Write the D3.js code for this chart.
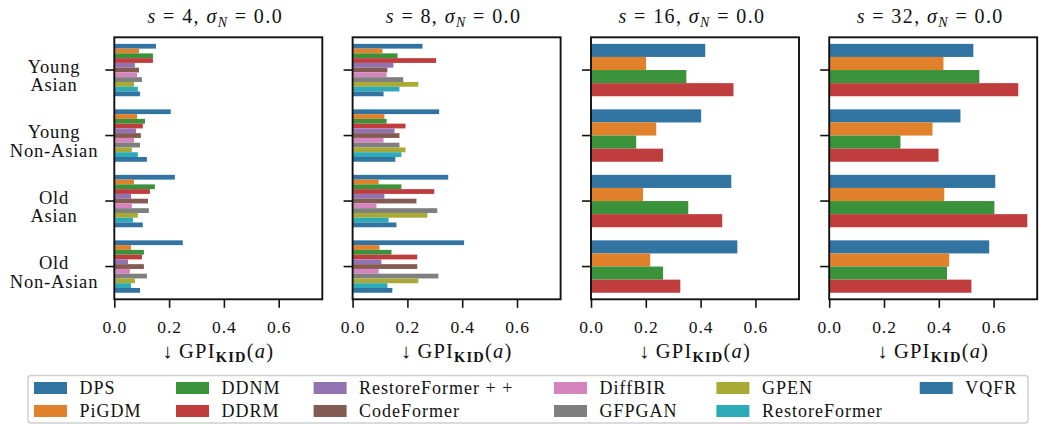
<!DOCTYPE html>
<html><head><meta charset="utf-8">
<script src="https://cdn.jsdelivr.net/npm/d3@7"></script>
<style>
html,body{margin:0;padding:0;background:#fff;}
svg{display:block;}
text{font-family:'Liberation Serif','DejaVu Serif',serif;fill:#111;}
</style></head>
<body><svg id="chart" width="1042" height="424"></svg>
<script>
// ---------- data ----------
const groupLabels = [["Young","Asian"],["Young","Non-Asian"],["Old","Asian"],["Old","Non-Asian"]];
const methods = ["DPS","PiGDM","DDNM","DDRM","RestoreFormer++","CodeFormer","DiffBIR","GFPGAN","GPEN","RestoreFormer","VQFR"];
const methodLegend = ["DPS","PiGDM","DDNM","DDRM","RestoreFormer + +","CodeFormer","DiffBIR","GFPGAN","GPEN","RestoreFormer","VQFR"];
const colors = ["#3274a1","#e1812c","#3a923a","#c03d3e","#9372b2","#845b53","#d684bd","#7f7f7f","#a9aa35","#2eabb8","#3274a1"];
const scales = [4, 8, 16, 32];
const sigmaN = "0.0";
const xTicks = [0, 0.2, 0.4, 0.6];
// rows = methods (in order), columns = groups
const s4Values = [
  [0.152, 0.206, 0.221, 0.250],
  [0.090, 0.083, 0.072, 0.061],
  [0.141, 0.112, 0.148, 0.108],
  [0.141, 0.104, 0.130, 0.101],
  [0.075, 0.079, 0.061, 0.050],
  [0.090, 0.097, 0.123, 0.108],
  [0.083, 0.072, 0.064, 0.057],
  [0.101, 0.094, 0.126, 0.119],
  [0.072, 0.064, 0.086, 0.075],
  [0.086, 0.086, 0.068, 0.061],
  [0.094, 0.119, 0.104, 0.094]
];
const s8Values = [
  [0.255, 0.316, 0.349, 0.407],
  [0.109, 0.116, 0.095, 0.098],
  [0.164, 0.124, 0.178, 0.142],
  [0.305, 0.193, 0.298, 0.236],
  [0.149, 0.153, 0.116, 0.105],
  [0.127, 0.171, 0.233, 0.236],
  [0.124, 0.113, 0.087, 0.095],
  [0.185, 0.171, 0.309, 0.313],
  [0.240, 0.193, 0.273, 0.240],
  [0.171, 0.178, 0.131, 0.127],
  [0.113, 0.156, 0.160, 0.145]
];
const s16Values = [
  [0.417, 0.402, 0.512, 0.534],
  [0.201, 0.238, 0.190, 0.216],
  [0.348, 0.165, 0.355, 0.263],
  [0.520, 0.263, 0.479, 0.326]
];
const s32Values = [
  [0.526, 0.479, 0.606, 0.584],
  [0.417, 0.377, 0.420, 0.438],
  [0.548, 0.260, 0.603, 0.430],
  [0.690, 0.399, 0.723, 0.519]
];
const panelValues = [s4Values, s8Values, s16Values, s32Values];

// ---------- layout ----------
const svg = d3.select("#chart");
const panelLeft = [114.3, 352.6, 591, 829.2];
const panelW = 208, plotTop = 37.3, plotBottom = 299.3;
const allMax = d3.max(panelValues.flat(2));
const x = d3.scaleLinear().domain([0, allMax * 1.05]);
const y = d3.scaleBand().domain(d3.range(groupLabels.length)).range([plotTop, plotBottom]).padding(0);
const fontSmall = 17.5;
const lsp = "0.9px";

panelValues.forEach((vals, p) => {
  const x0 = panelLeft[p];
  const xs = x.copy().range([x0, x0 + panelW]);
  const g = svg.append("g");
  const nH = vals.length;
  const groupW = y.bandwidth() * 0.8;
  const barH = groupW / nH;
  vals.forEach((row, m) => {
    g.selectAll(null).data(row).enter().append("rect")
      .attr("x", xs(0))
      .attr("y", (d, i) => y(i) + y.bandwidth() * 0.1 + m * barH)
      .attr("width", d => xs(d) - xs(0))
      .attr("height", barH)
      .attr("fill", colors[m]);
  });
  // frame
  g.append("rect").attr("x", x0).attr("y", plotTop).attr("width", panelW).attr("height", plotBottom - plotTop)
    .attr("fill", "none").attr("stroke", "#111").attr("stroke-width", 1.9);
  // x axis
  const xa = g.append("g").attr("transform", `translate(0,${plotBottom})`)
    .call(d3.axisBottom(xs).tickValues(xTicks).tickFormat(d3.format(".1f")).tickSize(8.5).tickPadding(13));
  xa.select(".domain").remove();
  xa.selectAll("line").attr("stroke", "#111").attr("stroke-width", 1.6);
  xa.selectAll("text").attr("font-size", fontSmall).attr("letter-spacing", lsp)
    .attr("font-family", "'Liberation Serif',serif").attr("fill", "#111");
  // y axis ticks
  const ya = g.append("g").attr("transform", `translate(${x0},0)`)
    .call(d3.axisLeft(y).tickSize(9).tickFormat(""));
  ya.select(".domain").remove();
  ya.selectAll("line").attr("stroke", "#111").attr("stroke-width", 1.6);

  // title
  const cx = x0 + panelW / 2;
  const t = svg.append("text").attr("x", cx - 3).attr("y", 23).attr("text-anchor", "middle")
    .attr("font-size", 20).attr("letter-spacing", "1.4px");
  t.append("tspan").attr("font-style", "italic").text("s");
  t.append("tspan").text(` = ${scales[p]}, `);
  t.append("tspan").attr("font-style", "italic").text("σ");
  t.append("tspan").attr("font-style", "italic").attr("font-size", 14).attr("dy", 3.5).text("N");
  t.append("tspan").attr("dy", -3.5).text(" = " + sigmaN);

  // x label
  const xl = svg.append("text").attr("x", cx).attr("y", 358).attr("text-anchor", "middle")
    .attr("font-size", 20.5).attr("letter-spacing", "1.2px");
  xl.append("tspan").text("\u2193\u2009GPI");
  xl.append("tspan").attr("font-weight", "bold").attr("font-size", 14.5).attr("dy", 4).text("KID");
  xl.append("tspan").attr("dy", -4).text("(");
  xl.append("tspan").attr("font-style", "italic").text("a");
  xl.append("tspan").text(")");
});

// y group labels
groupLabels.forEach((lines, i) => {
  const cy = y(i) + y.bandwidth() / 2;
  const t = svg.append("text").attr("text-anchor", "middle").attr("font-size", 18.5).attr("letter-spacing", "0.8px");
  lines.forEach((ln, k) => {
    t.append("tspan").attr("x", 54).attr("y", cy + 2.5 + k * 18.8).text(ln);
  });
});

// legend
const lg = svg.append("g");
lg.append("rect").attr("x", 28).attr("y", 375.5).attr("width", 1000).attr("height", 47.5)
  .attr("rx", 3).attr("fill", "#fff").attr("stroke", "#d0d0d0").attr("stroke-width", 1.5);
const colX = [34, 176, 313.6, 554, 716.4, 919.7];
const rowY = [388, 411];
methodLegend.forEach((name, i) => {
  const c = Math.floor(i / 2), r = i % 2;
  lg.append("rect").attr("x", colX[c]).attr("y", rowY[r] - 6).attr("width", 33).attr("height", 12)
    .attr("fill", colors[i]);
  lg.append("text").attr("x", colX[c] + 45.5).attr("y", rowY[r] + 6).attr("font-size", 18)
    .attr("letter-spacing", "1px").text(name);
});
</script>
</body></html>
